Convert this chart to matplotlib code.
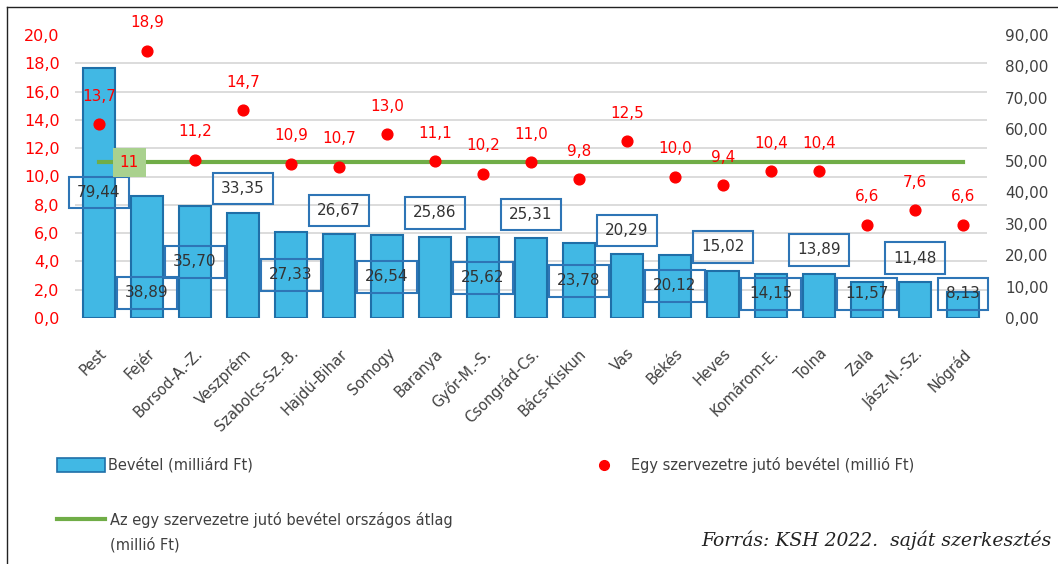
import numpy as np
import matplotlib
matplotlib.use("Agg")
import matplotlib.pyplot as plt
from matplotlib.patches import Rectangle
from matplotlib.lines import Line2D

plt.rcParams['font.family'] = ['DejaVu Sans']

W, H = 1058, 564

megyek = ['Pest', 'Fejér', 'Borsod-A.-Z.', 'Veszprém', 'Szabolcs-Sz.-B.', 'Hajdú-Bihar',
          'Somogy', 'Baranya', 'Győr-M.-S.', 'Csongrád-Cs.', 'Bács-Kiskun', 'Vas', 'Békés',
          'Heves', 'Komárom-E.', 'Tolna', 'Zala', 'Jász-N.-Sz.', 'Nógrád']
bevetel = [79.44, 38.89, 35.70, 33.35, 27.33, 26.67, 26.54, 25.86, 25.62, 25.31,
           23.78, 20.29, 20.12, 15.02, 14.15, 13.89, 11.57, 11.48, 8.13]
szervezetre = [13.7, 18.9, 11.2, 14.7, 10.9, 10.7, 13.0, 11.1, 10.2, 11.0,
               9.8, 12.5, 10.0, 9.4, 10.4, 10.4, 6.6, 7.6, 6.6]
orszagos_atlag = 11

# where the boxed bar labels sit (right axis units), as placed in the original
cimke_y = [39.9, 8.0, 17.9, 41.2, 13.7, 34.2, 13.1, 33.5, 12.8, 32.9,
           11.8, 27.8, 10.2, 22.7, 7.7, 21.7, 7.7, 19.0, 7.7]

kek = '#41b8e4'
kek_szel = '#1f6fa8'
piros = '#ff0000'
zold = '#70ad47'
szurke = '#404040'

x = np.arange(len(megyek))

fig = plt.figure(figsize=(W / 100, H / 100), dpi=100)
ax2 = fig.add_axes([75 / W, 1 - 318 / H, 912 / W, 283 / H])  # bars, 0-90
ax = ax2.twinx()                                               # dots, 0-20
ax.yaxis.tick_left()
ax2.yaxis.tick_right()

# bars
ax2.bar(x, bevetel, width=0.65, color=kek, edgecolor=kek_szel, linewidth=1.5, zorder=2)
ax2.set_ylim(0, 90)
ax2.set_xlim(-0.5, len(megyek) - 0.5)
ax2.set_yticks(np.arange(0, 91, 10))
ax2.set_yticklabels([f'{v:.2f}'.replace('.', ',') for v in np.arange(0, 91, 10)])
# grid follows the left axis (every 2,0 = every 9 on the right)
ax2.set_yticks(np.arange(0, 91, 9), minor=True)
ax2.grid(axis='y', which='minor', color='#d9d9d9', linewidth=1.3)
ax2.set_axisbelow(True)
ax2.tick_params(axis='y', which='both', length=0, pad=13, labelsize=11, labelcolor=szurke)
ax2.tick_params(axis='x', length=0, pad=20)
ax2.set_xticks(x)
ax2.set_xticklabels(megyek, rotation=45, ha='right', va='top', rotation_mode='anchor',
                    fontsize=10.5, color=szurke)
for s in ax2.spines.values():
    s.set_visible(False)

for i, v in enumerate(bevetel):
    ax2.text(i, cimke_y[i], f'{v:.2f}'.replace('.', ','), ha='center', va='center',
             fontsize=11, color='#333333', zorder=5,
             bbox=dict(boxstyle='square,pad=0.55', fc='none', ec='#2e75b6', lw=1.5))

# dots and average line
ax.plot([x[0], x[-1]], [orszagos_atlag, orszagos_atlag], color=zold, lw=3, zorder=3)
ax.scatter(x, szervezetre, s=60, color=piros, zorder=4)
for i, v in enumerate(szervezetre):
    ax.annotate(f'{v:.1f}'.replace('.', ','), (i, v), xytext=(0, 20),
                textcoords='offset points', ha='center', va='center',
                fontsize=11, color=piros)
ax.text(0.63, orszagos_atlag, '11', ha='center', va='center', fontsize=11, color=piros,
        zorder=6, bbox=dict(boxstyle='square,pad=0.45', fc='#a9d18e', ec='none'))
ax.set_ylim(0, 20)
ax.set_yticks(np.arange(0, 21, 2))
ax.set_yticklabels([f'{v:.1f}'.replace('.', ',') for v in np.arange(0, 21, 2)])
ax.tick_params(axis='y', length=0, pad=11, labelsize=11.5, labelcolor=piros)
for s in ax.spines.values():
    s.set_visible(False)

# frame
fig.add_artist(Line2D([7 / W, 1], [1 - 7 / H, 1 - 7 / H], transform=fig.transFigure,
                      color='#222222', lw=1))
fig.add_artist(Line2D([7 / W, 7 / W], [1 - 7 / H, 0], transform=fig.transFigure,
                      color='#222222', lw=1))

# legend
fig.add_artist(Rectangle((57 / W, 1 - 472 / H), 48 / W, 14 / H, transform=fig.transFigure,
                         fc=kek, ec=kek_szel, lw=1.2))
fig.text(108 / W, 1 - 465 / H, 'Bevétel (milliárd Ft)', ha='left', va='center',
         fontsize=10.5, color=szurke)
fig.add_artist(Line2D([604 / W], [1 - 465 / H], transform=fig.transFigure, marker='o',
                      markersize=7, color=piros, linestyle='none'))
fig.text(631 / W, 1 - 465 / H, 'Egy szervezetre jutó bevétel (millió Ft)', ha='left',
         va='center', fontsize=10.5, color=szurke)
fig.add_artist(Line2D([57 / W, 105 / W], [1 - 519 / H, 1 - 519 / H],
                      transform=fig.transFigure, color=zold, lw=3))
fig.text(110 / W, 1 - 520 / H, 'Az egy szervezetre jutó bevétel országos átlag',
         ha='left', va='center', fontsize=10.5, color=szurke)
fig.text(110 / W, 1 - 545 / H, '(millió Ft)', ha='left', va='center',
         fontsize=10.5, color=szurke)
fig.text(1052 / W, 1 - 540 / H, 'Forrás: KSH 2022.  saját szerkesztés', ha='right',
         va='center', fontsize=13.5, family='DejaVu Serif', style='italic', color='#222222')

fig.savefig('out.png', dpi=100)
